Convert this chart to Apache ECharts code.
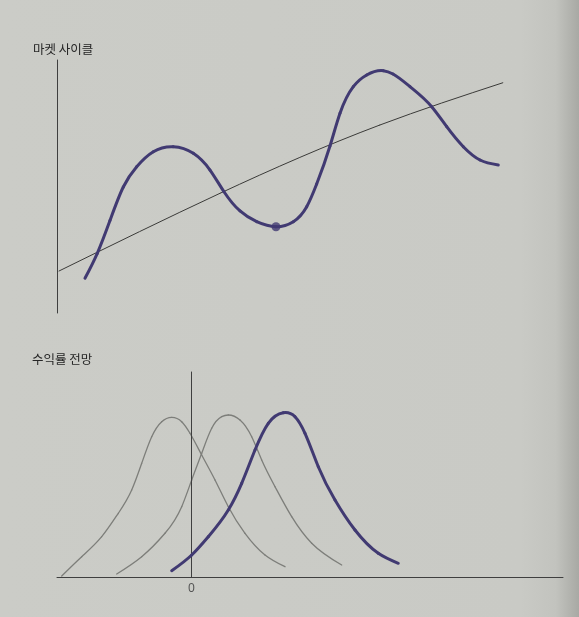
<!DOCTYPE html>
<html>
<head>
<meta charset="utf-8">
<script src="https://cdn.jsdelivr.net/npm/echarts@6/dist/echarts.min.js"></script>
<style>
html,body{margin:0;padding:0;}
body{width:579px;height:617px;background:linear-gradient(to right,#cbccc7 0%,#c9cac5 90%,#c2c3be 96%,#a8a9a4 100%);}
#c{width:579px;height:617px;}
</style>
</head>
<body>
<div id="c"></div>
<script>
// Titles
var topTitle = '마켓 사이클';
var bottomTitle = '수익률 전망';

// Top panel: market cycle (x: time, y: level 0..100)
var cycleX = [5.53, 7.96, 10.47, 13.10, 15.75, 19.03, 22.98, 26.94, 30.24, 33.00, 36.17, 39.47, 43.28, 46.70, 49.35, 51.32, 53.95, 55.93, 58.56, 61.21, 64.49, 66.40, 69.76, 74.05, 77.02, 80.30, 83.60, 87.21];
var cycleY = [13.72, 23.60, 36.56, 49.80, 57.83, 63.75, 65.73, 63.12, 56.52, 47.94, 40.32, 36.09, 34.11, 36.09, 42.02, 50.99, 66.01, 78.93, 89.45, 94.07, 95.77, 94.47, 89.45, 81.54, 73.64, 65.73, 60.47, 58.50];
var trendX = [0.4, 32.2, 63.8, 88.1];
var trendY = [16.6, 47.3, 74.3, 91.0];
var markerX = [43.28];
var markerY = [34.11];

// Bottom panel: return outlook distributions (x: return, 0 = zero line; y: density 0..100)
var dist1X = [-12.98, -10.98, -8.98, -7.32, -5.98, -4.98, -3.98, -2.98, -1.98, -0.98, -0.15, 1.02, 2.35, 3.68, 5.35, 7.35, 9.35];
var dist1Y = [0.49, 9.90, 19.66, 31.07, 42.44, 55.46, 68.44, 75.76, 77.90, 75.76, 70.10, 59.51, 47.32, 34.29, 21.32, 10.73, 5.02];
var dist2X = [-7.48, -4.98, -2.65, -0.98, 0.02, 1.02, 2.02, 3.02, 3.68, 4.85, 6.02, 7.02, 8.35, 10.02, 12.02, 15.02];
var dist2Y = [1.46, 9.90, 21.32, 34.29, 47.32, 60.34, 72.54, 78.20, 79.02, 76.59, 68.44, 57.07, 44.05, 29.41, 16.44, 5.85];
var dist3X = [-1.98, 0.02, 1.68, 3.68, 5.02, 6.35, 7.68, 9.18, 10.35, 11.35, 12.68, 14.35, 16.35, 18.68, 20.68];
var dist3Y = [3.07, 10.73, 19.66, 32.68, 45.71, 61.95, 74.98, 80.15, 78.20, 70.10, 53.80, 37.56, 22.93, 11.56, 6.68];
var zeroLineX = [0, 0];
var zeroLineY = [2.0, 93.7];
var xTickLabels = [0];

function pairs(xs, ys){ return xs.map(function(x,i){ return [x, ys[i]]; }); }

var purple = '#413a72';
var axisColor = '#3f3f3f';
var grey = '#7d7e7a';

// Natural cubic spline end slopes per segment, in screen space
function splineSlopes(P){
  var n = P.length, h = [], i;
  for (i = 0; i < n - 1; i++) h[i] = P[i+1][0] - P[i][0];
  var M = new Array(n).fill(0);
  if (n > 2){
    var a = [], b = [], c = [], r = [];
    for (i = 1; i < n - 1; i++){
      a[i] = h[i-1]; b[i] = 2 * (h[i-1] + h[i]); c[i] = h[i];
      r[i] = 6 * ((P[i+1][1] - P[i][1]) / h[i] - (P[i][1] - P[i-1][1]) / h[i-1]);
    }
    // Thomas algorithm on indices 1..n-2
    var cp = [], rp = [];
    for (i = 1; i < n - 1; i++){
      var den = b[i] - (i > 1 ? a[i] * cp[i-1] : 0);
      cp[i] = c[i] / den;
      rp[i] = (r[i] - (i > 1 ? a[i] * rp[i-1] : 0)) / den;
    }
    for (i = n - 2; i >= 1; i--){
      M[i] = rp[i] - (i < n - 2 ? cp[i] * M[i+1] : 0);
    }
  }
  var seg = [];
  for (i = 0; i < n - 1; i++){
    var d = (P[i+1][1] - P[i][1]) / h[i];
    seg.push([d - h[i] * (2 * M[i] + M[i+1]) / 6, d + h[i] * (M[i] + 2 * M[i+1]) / 6]);
  }
  return seg;
}

function smoothSeries(xs, ys, gridIdx, color, width, z){
  var n = xs.length;
  return {
    type: 'custom', xAxisIndex: gridIdx, yAxisIndex: gridIdx, z: z, clip: false,
    data: pairs(xs, ys),
    encode: {x: 0, y: 1},
    renderItem: function(params, api){
      var i = params.dataIndex;
      if (i >= n - 1) return null;
      var P = xs.map(function(x, k){ return api.coord([x, ys[k]]); });
      var s = splineSlopes(P)[i];
      var a = P[i], b = P[i+1], hh = (b[0] - a[0]) / 3;
      return {
        type: 'bezierCurve',
        shape: {x1: a[0], y1: a[1], cpx1: a[0] + hh, cpy1: a[1] + s[0] * hh,
                cpx2: b[0] - hh, cpy2: b[1] - s[1] * hh, x2: b[0], y2: b[1]},
        style: {stroke: color, lineWidth: width, fill: null, lineCap: 'round'}
      };
    }
  };
}

var chart = echarts.init(document.getElementById('c'), null, {renderer:'canvas'});
chart.setOption({
  backgroundColor: 'transparent',
  animation: false,
  title: [
    {text: topTitle, left: 28, top: 38, textStyle: {fontFamily: 'Noto Sans CJK KR', fontSize: 12.5, fontWeight: 'normal', color: '#262626'}},
    {text: bottomTitle, left: 27, top: 348, textStyle: {fontFamily: 'Noto Sans CJK KR', fontSize: 12.5, fontWeight: 'normal', color: '#262626'}}
  ],
  grid: [
    {left: 57, top: 60, width: 506, height: 253},
    {left: 57, top: 372, width: 506, height: 205}
  ],
  xAxis: [
    {gridIndex: 0, type: 'value', min: 0, max: 100, show: false},
    {gridIndex: 1, type: 'value', min: -13.45, max: 37.15,
      axisLine: {show: true, lineStyle: {color: axisColor, width: 1}},
      axisTick: {show: false},
      splitLine: {show: false},
      axisLabel: {customValues: xTickLabels, margin: 6, color: '#555', fontSize: 12, fontFamily: 'Noto Sans'}
    }
  ],
  yAxis: [
    {gridIndex: 0, type: 'value', min: 0, max: 100,
      axisLine: {show: true, lineStyle: {color: axisColor, width: 1}},
      axisTick: {show: false}, axisLabel: {show: false}, splitLine: {show: false}},
    {gridIndex: 1, type: 'value', min: 0, max: 100,
      axisLine: {show: true, lineStyle: {color: axisColor, width: 1}},
      axisTick: {show: false}, axisLabel: {show: false}, splitLine: {show: false}}
  ],
  series: [
    smoothSeries(trendX, trendY, 0, '#3a3a38', 1, 2),
    smoothSeries(cycleX, cycleY, 0, purple, 3, 3),
    {type: 'scatter', xAxisIndex: 0, yAxisIndex: 0, data: pairs(markerX, markerY), symbolSize: 9,
      itemStyle: {color: purple}, z: 4},
    smoothSeries(dist1X, dist1Y, 1, grey, 1.3, 2),
    smoothSeries(dist2X, dist2Y, 1, grey, 1.3, 2),
    {type: 'line', xAxisIndex: 1, yAxisIndex: 1, data: pairs(zeroLineX, zeroLineY), showSymbol: false,
      lineStyle: {color: axisColor, width: 1}, z: 3},
    smoothSeries(dist3X, dist3Y, 1, purple, 3, 4)
  ]
});
</script>
</body>
</html>
